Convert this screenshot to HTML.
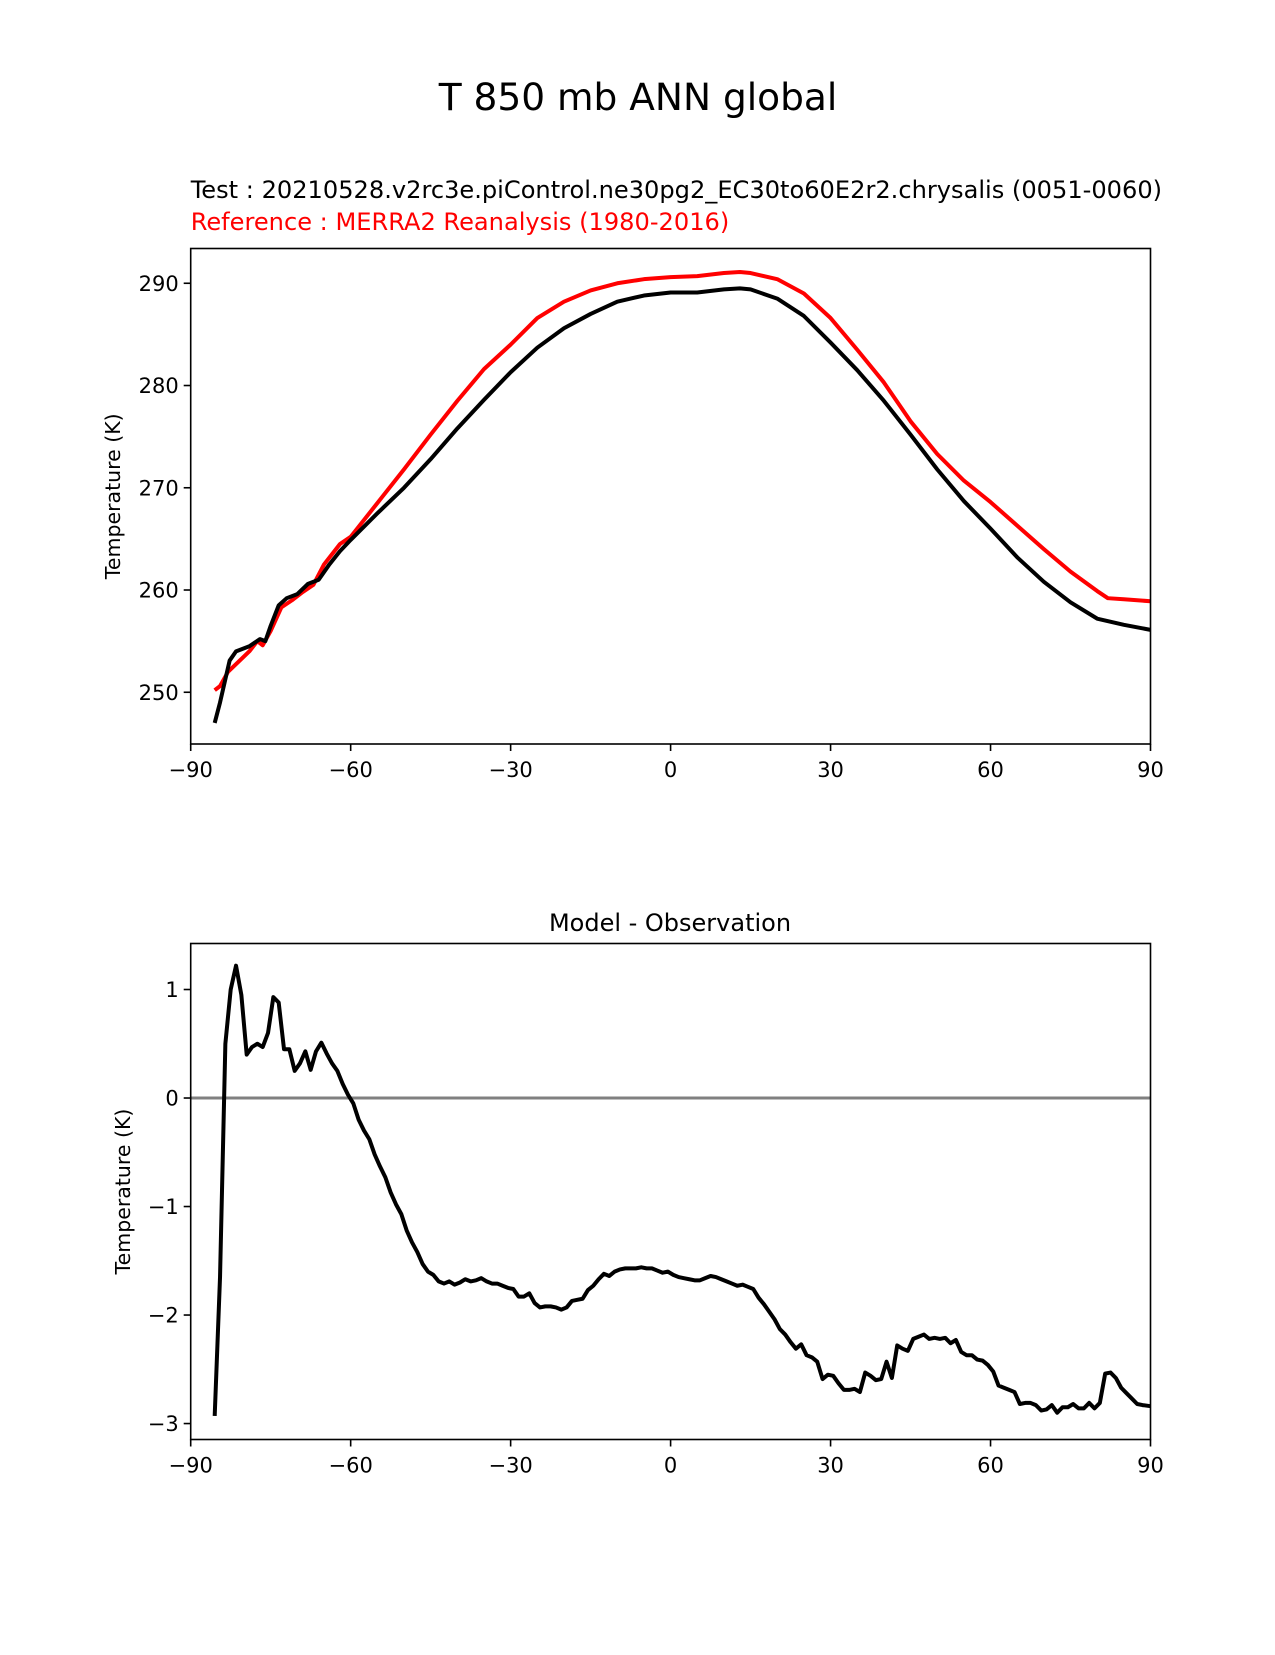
<!DOCTYPE html>
<html><head><meta charset="utf-8"><style>
body{margin:0;background:#fff}
svg text{font-family:"DejaVu Sans","Liberation Sans",sans-serif}
</style></head><body>
<svg id="fig" width="1275" height="1650" viewBox="0 0 1275 1650" xmlns="http://www.w3.org/2000/svg">
<rect width="1275" height="1650" fill="#fff"/>
<text x="638" y="110" font-size="37.5" text-anchor="middle">T 850 mb ANN global</text>
<text x="190.7" y="198" font-size="24.1">Test : 20210528.v2rc3e.piControl.ne30pg2_EC30to60E2r2.chrysalis (0051-0060)</text>
<text x="190.7" y="230" font-size="24.1" fill="#ff0000">Reference : MERRA2 Reanalysis (1980-2016)</text>
<text x="670" y="931" font-size="24" text-anchor="middle">Model - Observation</text>
<g id="top"></g>
<g id="bot"></g>
</svg>
<script>
const testLat=[-85.5,-84.5,-82.7,-81.5,-79,-77,-76,-75,-73.5,-72,-70,-68,-66,-64,-62,-60,-55,-50,-45,-40,-35,-30,-25,-20,-15,-10,-5,0,5,10,13,15,20,25,30,35,40,45,50,55,60,65,70,75,80,85,90];
const testVals=[247.0,249,253.1,254,254.5,255.2,255,256.5,258.5,259.2,259.6,260.6,261,262.5,263.8,264.9,267.5,270,272.8,275.8,278.6,281.3,283.7,285.6,287.0,288.2,288.8,289.1,289.1,289.4,289.5,289.4,288.5,286.8,284.2,281.5,278.5,275.2,271.8,268.7,266.0,263.2,260.8,258.8,257.2,256.6,256.1];
const refLat=[-85.5,-84.5,-83,-81,-79,-77.5,-76.5,-75,-73,-71,-69,-67,-65,-62,-60,-55,-50,-45,-40,-35,-30,-25,-20,-15,-10,-5,0,5,10,13,15,20,25,30,35,40,45,50,55,60,65,70,75,80,82,85,90];
const refVals=[250.2,250.6,252,253,254,255,254.6,256,258.3,259,259.8,260.5,262.5,264.5,265.2,268.5,271.8,275.2,278.5,281.6,284.0,286.6,288.2,289.3,290.0,290.4,290.6,290.7,291.0,291.1,291.0,290.4,289.0,286.6,283.5,280.3,276.5,273.3,270.7,268.6,266.3,264.0,261.8,259.9,259.2,259.1,258.9];
const diffVals=[-2.93,-1.65,0.5,1.0,1.22,0.95,0.4,0.47,0.5,0.47,0.6,0.93,0.88,0.45,0.45,0.25,0.32,0.43,0.26,0.43,0.51,0.41,0.32,0.25,0.13,0.03,-0.05,-0.2,-0.3,-0.38,-0.52,-0.63,-0.73,-0.87,-0.98,-1.07,-1.22,-1.33,-1.42,-1.53,-1.6,-1.63,-1.69,-1.71,-1.69,-1.72,-1.70,-1.67,-1.69,-1.68,-1.66,-1.69,-1.71,-1.71,-1.73,-1.75,-1.76,-1.83,-1.83,-1.80,-1.89,-1.93,-1.92,-1.92,-1.93,-1.95,-1.93,-1.87,-1.86,-1.85,-1.77,-1.73,-1.67,-1.62,-1.64,-1.6,-1.58,-1.57,-1.57,-1.57,-1.56,-1.57,-1.57,-1.59,-1.61,-1.60,-1.63,-1.65,-1.66,-1.67,-1.68,-1.68,-1.66,-1.64,-1.65,-1.67,-1.69,-1.71,-1.73,-1.72,-1.74,-1.76,-1.84,-1.9,-1.97,-2.04,-2.13,-2.18,-2.25,-2.31,-2.27,-2.37,-2.39,-2.43,-2.59,-2.55,-2.56,-2.63,-2.69,-2.69,-2.68,-2.71,-2.53,-2.56,-2.6,-2.59,-2.43,-2.58,-2.28,-2.31,-2.33,-2.22,-2.2,-2.18,-2.22,-2.21,-2.22,-2.21,-2.26,-2.23,-2.34,-2.37,-2.37,-2.41,-2.42,-2.46,-2.52,-2.65,-2.67,-2.69,-2.71,-2.82,-2.81,-2.81,-2.83,-2.88,-2.87,-2.83,-2.9,-2.85,-2.85,-2.82,-2.86,-2.86,-2.81,-2.86,-2.81,-2.54,-2.53,-2.58,-2.67,-2.72,-2.77,-2.82,-2.83,-2.84];
const diffLat=[];for(let i=0;i<diffVals.length;i++)diffLat.push(i<diffVals.length-1?-85.5+i:90);
const xTicks=[-90,-60,-30,0,30,60,90];
const topYTicks=[250,260,270,280,290];
const botYTicks=[-3,-2,-1,0,1];

const NS='http://www.w3.org/2000/svg';
const L=190.7,R=1150.5;
const xs=v=>L+(v+90)/180*(R-L);
function mk(p,t,a){const e=document.createElementNS(NS,t);for(const k in a)e.setAttribute(k,a[k]);p.appendChild(e);return e;}
function fmt(v){return v<0?'\u2212'+(-v):String(v);}
function panel(g,top,bot,ymin,ymax,yt,labelY,name){
  const ys=v=>bot-(v-ymin)/(ymax-ymin)*(bot-top);
  return {ys,finish(){
    const fr=mk(g,'rect',{x:L,y:top,width:R-L,height:bot-top,fill:'none',stroke:'#000','stroke-width':1.6});
    
    
    xTicks.forEach(v=>{
      const t=mk(g,'line',{x1:xs(v),x2:xs(v),y1:bot,y2:bot+7,stroke:'#000','stroke-width':1.6});
      
      
      const tx=mk(g,'text',{x:xs(v),y:bot+33,'font-size':21,'text-anchor':'middle'});tx.textContent=fmt(v);
      
      
    });
    yt.forEach(v=>{
      const t=mk(g,'line',{x1:L-7,x2:L,y1:ys(v),y2:ys(v),stroke:'#000','stroke-width':1.6});
      
      
      const tx=mk(g,'text',{x:L-12,y:ys(v)+7.5,'font-size':21,'text-anchor':'end'});tx.textContent=fmt(v);
      
      
    });
    const yl=mk(g,'text',{x:0,y:0,'font-size':20.5,'text-anchor':'middle',transform:`translate(${labelY},${(top+bot)/2}) rotate(-90)`});
    yl.textContent='Temperature (K)';
    
    
  }};
}
function line(g,xsArr,vs,ys,color,name){
  const d=xsArr.map((x,i)=>(i?'L':'M')+xs(x).toFixed(2)+' '+ys(vs[i]).toFixed(2)).join(' ');
  const p=mk(g,'path',{d,fill:'none',stroke:color,'stroke-width':4,'stroke-linejoin':'round'});
  
  
}
const tg=document.getElementById('top');
const tp=panel(tg,248.5,744,244.94,293.4,topYTicks,120,'top');
line(tg,refLat,refVals,tp.ys,'#ff0000','reference-line');
line(tg,testLat,testVals,tp.ys,'#000','test-line');
tp.finish();
const bg=document.getElementById('bot');
const bp=panel(bg,943.5,1439.5,-3.147,1.424,botYTicks,130,'diff');
const z=mk(bg,'line',{x1:L,x2:R,y1:bp.ys(0),y2:bp.ys(0),stroke:'#808080','stroke-width':3});


line(bg,diffLat,diffVals,bp.ys,'#000','difference-line');
bp.finish();
</script>
</body></html>
